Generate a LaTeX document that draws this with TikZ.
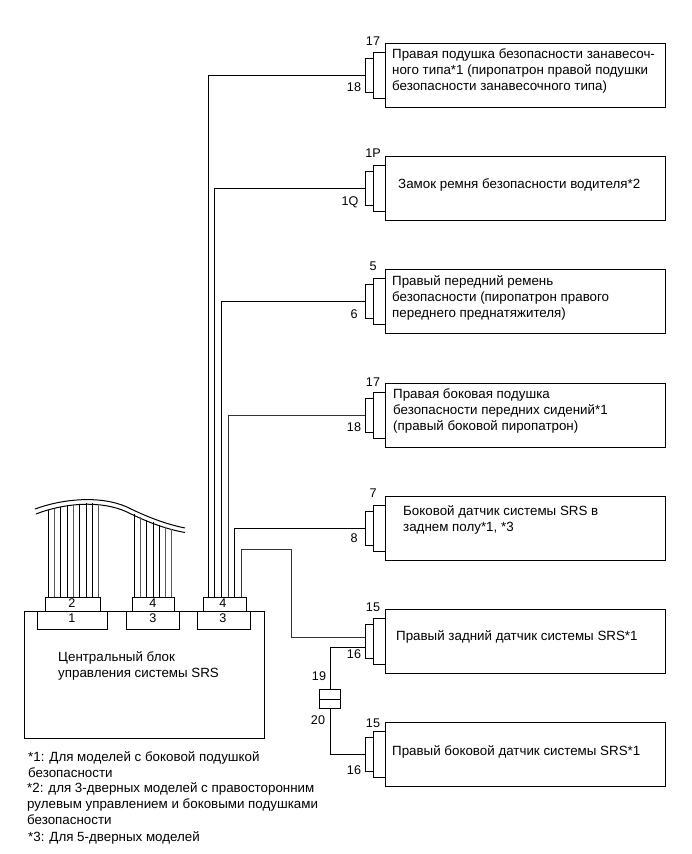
\documentclass[tikz,border=0pt]{standalone}
\usepackage{fontspec}
\setmainfont{Liberation Sans}
\usetikzlibrary{calc}
\tikzset{
  boxnode/.style={draw=black,line width=1pt,fill=white,inner sep=0pt,anchor=north west,minimum width=280pt,minimum height=64pt},
  midconn/.style={draw=black,line width=1pt,fill=white,inner sep=0pt,anchor=north west,minimum width=12pt,minimum height=46pt},
  smallconn/.style={draw=black,line width=1pt,fill=white,inner sep=0pt,anchor=north west,minimum width=8pt,minimum height=34pt},
  part/.style={draw=black,line width=1pt,fill=white,inner sep=0pt,anchor=north west},
  txt/.style={anchor=west,inner sep=0pt,align=left,font=\fontsize{13.35pt}{16pt}\selectfont},
  num/.style={inner sep=0pt,font=\fontsize{12.6pt}{14pt}\selectfont},
  wire/.style={line width=1pt,black},
  gwire/.style={line width=1pt,black!65},
  dwire/.style={line width=1pt,black!80},
}
\begin{document}
\begin{tikzpicture}[x=1pt,y=-1pt]
\useasboundingbox[fill=white] (0,0) rectangle (691,854);

% devices
\foreach \n/\t in {a/43,b/156,c/269,d/383,e/496,f/609,g/722}{
  \node[boxnode] (box\n) at (385,\t) {};
  \node[midconn] (mid\n) at (373,\t+9) {};
  \node[smallconn] (con\n) at (365,\t+15) {};
}
\node[txt] (ta) at (392,71) {Правая подушка безопасности занавесоч-\\ного типа*1 (пиропатрон правой подушки\\безопасности занавесочного типа)};
\node[txt] (tb) at (398,185) {Замок ремня безопасности водителя*2};
\node[txt] (tc) at (392,298) {Правый передний ремень\\безопасности (пиропатрон правого\\переднего преднатяжителя)};
\node[txt] (td) at (393,411) {Правая боковая подушка\\безопасности передних сидений*1\\(правый боковой пиропатрон)};
\node[txt] (te) at (403,520) {Боковой датчик системы SRS в\\заднем полу*1, *3};
\node[txt] (tf) at (396,637) {Правый задний датчик системы SRS*1};
\node[txt] (tg) at (392,752) {Правый боковой датчик системы SRS*1};

% pin labels
\foreach \n/\s/\x/\y in {l1/17/373/41,l2/18/354/87,l3/1P/373/153,l4/1Q/350/202,l5/5/373/266,l6/6/354/314,l7/17/373/382,l8/18/354/427,l9/7/373/493,l10/8/354/538,l11/15/373/607,l12/16/354/654,l13/15/373/723,l14/16/354/770,l15/19/319/676,l16/20/318/720}{
  \node[num] (\n) at (\x,\y) {\s};
}

% control unit
\node[draw=black,line width=1pt,inner sep=0pt,anchor=north west,minimum width=240pt,minimum height=127pt] (ecu) at (24,611) {};
\node[txt] (ecutext) at (58,666) {Центральный блок\\управления системы SRS};

% harness
\draw[line width=1pt] (35,509) .. controls (62,499) and (100,495) .. (127,507) .. controls (145,516) and (165,524) .. (185,528);
\draw[line width=1pt] (36,514) .. controls (63,503.5) and (100,499.5) .. (127,512) .. controls (145,521) and (165,529) .. (185,532.5);

% harness wires, group 1
\foreach \x/\y/\s in {48/510/wire,54/508.5/gwire,60/507/wire,67/505/wire,73/504/gwire,79/503.5/wire,86/503/wire,92/503/wire,98/504/gwire}{
  \draw[\s] (\x,\y) -- (\x,597);
}
% harness wires, group 2
\foreach \x/\y/\s in {134/514/wire,140/517/gwire,146/520/wire,153/522/wire,159/524.5/wire,165/526.5/gwire,171/528.5/gwire}{
  \draw[\s] (\x,\y) -- (\x,597);
}

% connector blocks
\node[part,minimum width=70pt,minimum height=18pt] (k1) at (37,611) {};
\node[part,minimum width=55pt,minimum height=14pt] (k2) at (45,597) {};
\node[part,minimum width=53pt,minimum height=18pt] (k3) at (126,611) {};
\node[part,minimum width=42pt,minimum height=14pt] (k4) at (132,597) {};
\node[part,minimum width=53pt,minimum height=18pt] (k5) at (197,611) {};
\node[part,minimum width=43pt,minimum height=14pt] (k6) at (203,597) {};
\node[num] (n1) at (72,618) {1};
\node[num] (n2) at (72,603) {2};
\node[num] (n3) at (153,618) {3};
\node[num] (n4) at (153,603) {4};
\node[num] (n5) at (223,618) {3};
\node[num] (n6) at (223,603) {4};

% long wires
\coordinate (wa) at (208,597);
\coordinate (wb) at (214,597);
\coordinate (wc) at (221,597);
\coordinate (wd) at (228,597);
\coordinate (we) at (234,597);
\coordinate (wf) at (241,597);
\coordinate (bendf) at (291,549);
\draw[wire] (wa) |- (cona.west);
\draw[wire] (wb) |- (conb.west);
\draw[wire] (wc) |- (conc.west);
\draw[dwire] (wd) |- (cond.west);
\draw[wire] (we) |- (cone.west);
\draw[dwire] (wf) |- (bendf) |- ($(conf.west)+(0,-4)$);

% inline connector
\node[draw=black,line width=1pt,fill=white,inner sep=0pt,anchor=north west,minimum width=21pt,minimum height=19pt] (jn) at (319,689) {};
\draw[line width=1pt] (jn.west) -- (jn.east);
\draw[wire] ($(conf.west)+(0,6)$) -| (jn.north);
\draw[wire] (jn.south) |- (cong.west);

% notes
\node[txt] (fn1) at (28,765) {*1: Для моделей с боковой подушкой\\безопасности};
\node[txt] (fn2) at (27,804) {*2: для 3-дверных моделей с правосторонним\\рулевым управлением и боковыми подушками\\безопасности};
\node[txt] (fn3) at (28,838) {*3: Для 5-дверных моделей};
\end{tikzpicture}
\end{document}
